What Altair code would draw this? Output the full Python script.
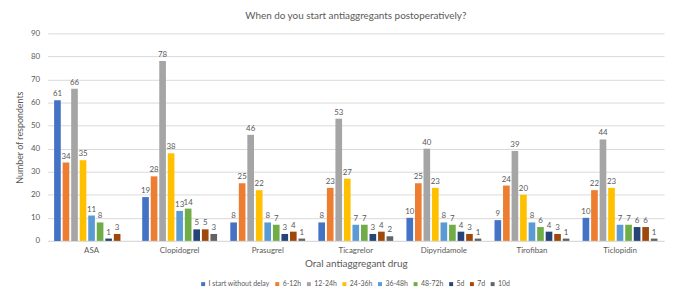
import altair as alt
import pandas as pd

drugs = ["ASA", "Clopidogrel", "Prasugrel", "Ticagrelor", "Dipyridamole", "Tirofiban", "Ticlopidin"]
series = ["I start without delay", "6-12h", "12-24h", "24-36h", "36-48h", "48-72h", "5d", "7d", "10d"]
colors = ["#4472C4", "#ED7D31", "#A5A5A5", "#FFC000", "#5B9BD5", "#70AD47", "#264478", "#9E480E", "#636363"]
values = {
    "ASA":          [61, 34, 66, 35, 11, 8, 1, 3, None],
    "Clopidogrel":  [19, 28, 78, 38, 13, 14, 5, 5, 3],
    "Prasugrel":    [8, 25, 46, 22, 8, 7, 3, 4, 1],
    "Ticagrelor":   [8, 23, 53, 27, 7, 7, 3, 4, 2],
    "Dipyridamole": [10, 25, 40, 23, 8, 7, 4, 3, 1],
    "Tirofiban":    [9, 24, 39, 20, 8, 6, 4, 3, 1],
    "Ticlopidin":   [10, 22, 44, 23, 7, 7, 6, 6, 1],
}

rows = []
for d in drugs:
    for s, v in zip(series, values[d]):
        if v is not None:
            rows.append({"drug": d, "series": s, "value": v})
df = pd.DataFrame(rows)

FONT = "Lato"
TXT = "#595959"

base = alt.Chart(df).encode(
    x=alt.X("drug:N", sort=drugs, title="Oral antiaggregant drug",
            scale=alt.Scale(paddingInner=0.15, paddingOuter=0.075),
            axis=alt.Axis(labelAngle=0, ticks=False, domainColor="#D9D9D9",
                          labelColor=TXT, labelFont=FONT, labelFontSize=8,
                          titleColor=TXT, titleFont=FONT, titleFontSize=10,
                          titleFontWeight="normal", labelPadding=6, titlePadding=4)),
    xOffset=alt.XOffset("series:N", sort=series,
                        scale=alt.Scale(domain=series, paddingInner=0.22)),
    y=alt.Y("value:Q", title="Number of respondents",
            scale=alt.Scale(domain=[0, 90]),
            axis=alt.Axis(values=list(range(0, 91, 10)), ticks=False, domain=False,
                          gridColor="#D9D9D9", labelColor=TXT, labelFont=FONT,
                          labelFontSize=8, labelPadding=8, titleColor=TXT,
                          titleFont=FONT, titleFontSize=9, titleFontWeight="normal",
                          titlePadding=6)),
)

bars = base.mark_bar().encode(
    color=alt.Color("series:N", sort=series,
                    scale=alt.Scale(domain=series, range=colors),
                    legend=alt.Legend(title=None, orient="none", direction="horizontal",
                                      columns=9, legendX=154, legendY=250,
                                      symbolType="square", symbolSize=16,
                                      labelFont=FONT, labelFontSize=7, labelColor=TXT,
                                      columnPadding=4, labelOffset=2,
                                      symbolStrokeWidth=0))
)

labels = base.mark_text(dy=-6, fontSize=8, font=FONT, color=TXT).encode(
    text="value:Q"
)

chart = alt.layer(bars, labels).properties(
    width=624, height=210,
    autosize=alt.AutoSizeParams(type="none"),
    padding={"left": 40, "top": 24, "right": 6, "bottom": 47},
    title=alt.TitleParams("When do you start antiaggregants postoperatively?",
                          font=FONT, fontSize=10, fontWeight="normal",
                          color=TXT, offset=9),
).configure_view(stroke=None)

chart.save("out.html", embed_options={"renderer": "svg", "actions": False})
